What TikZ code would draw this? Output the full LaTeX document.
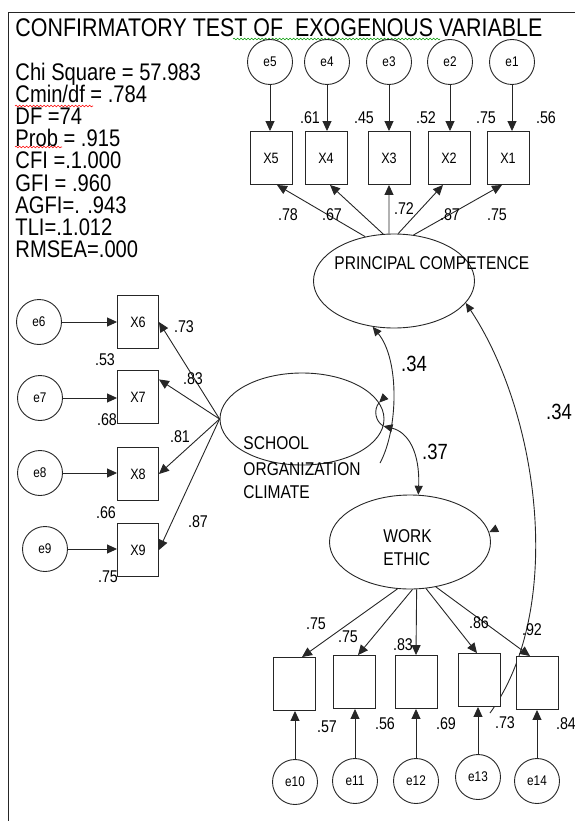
\documentclass[tikz,border=0pt]{standalone}
\usepackage{fontspec}
\setmainfont{Liberation Sans}[FakeStretch=0.84]
\usetikzlibrary{shapes.geometric, arrows.meta, decorations.pathmorphing, backgrounds}

\tikzset{
  err/.style={draw, fill=white, circle, minimum size=45pt, inner sep=0pt, font=\fontsize{14}{14}\selectfont},
  obs/.style={draw, fill=white, rectangle, minimum width=42pt, minimum height=53pt, inner sep=0pt, font=\fontsize{15}{15}\selectfont},
  lat/.style={draw, ellipse, minimum width=161pt, minimum height=94pt, inner sep=0pt},
  lbl/.style={font=\fontsize{18.5}{18.5}\selectfont, inner sep=0pt, anchor=base west},
  val/.style={font=\fontsize{17}{17}\selectfont, inner sep=0pt},
  big/.style={font=\fontsize{22}{22}\selectfont, inner sep=0pt},
  fit/.style={anchor=base west, inner sep=0pt, font=\fontsize{24}{22}\selectfont},
  arr/.style={-{Triangle[length=10pt,width=9pt]}},
  cov/.style={-{Triangle[length=9pt,width=8pt]}, line width=0.9pt, draw=black!85},
  squig/.style={decorate, decoration={snake, amplitude=0.8pt, segment length=3.5pt}, line width=0.6pt}
}

\begin{document}
\begin{tikzpicture}[x=1pt, y=-1pt, line width=0.9pt, draw=black!85]

    \useasboundingbox (0,0) rectangle (574,821);

    % frame
    \draw (8,821) -- (8,12) -- (580,12);

    % title and fit values
    \node[anchor=base west, inner sep=0pt, font=\fontsize{25.5}{26}\selectfont] (title) at (15,37)
        {CONFIRMATORY TEST OF~ EXOGENOUS VARIABLE};
    \foreach \s [count=\i] in {Chi Square = 57.983, Cmin/df = .784, DF =74, Prob = .915,
        CFI =.1.000, GFI = .960, AGFI=. .943, TLI=.1.012, RMSEA=.000}
        \node[fit] (fit\i) at (15,59+22*\i) {\s};

    % spelling marks
    \draw[squig, green!60!black] (233,39) -- (440,39);
    \draw[squig, red] (15,106) -- (93,106);
    \draw[squig, red] (15,147) -- (62,147);

    % latent variables
    \node[lat] (PC) at (394,281) {};
    \node[lat, minimum width=164pt, minimum height=92pt] (SOC) at (302,419) {};
    \node[lat] (WE) at (410,542) {};
    \node[lbl] (PCtext) at (334,269) {PRINCIPAL COMPETENCE};
    \node[lbl] (SOCa) at (243,449) {SCHOOL};
    \node[lbl] (SOCb) at (243,475) {ORGANIZATION};
    \node[lbl] (SOCc) at (243,498) {CLIMATE};
    \node[lbl] (WEa) at (383,542) {WORK};
    \node[lbl] (WEb) at (383,565) {ETHIC};

    % principal competence indicators
    \foreach \i/\ex/\bx in {1/512/508, 2/450/449, 3/389/389, 4/327/326, 5/270/271} {
        \node[err] (e\i) at (\ex,62) {e\i};
        \node[obs] (X\i) at (\bx,158) {X\i};
        \draw[arr] (e\i) -- (e\i |- X\i.north);
    }
    \draw[arr] (PC.123) -- ([xshift=6pt]X5.south);
    \draw[arr] (PC.103) -- ([xshift=4pt]X4.south);
    \draw[arr] (PC.96) -- (X3.south);
    \draw[arr] (PC.85) -- ([xshift=-6pt]X2.south);
    \draw[arr] (PC.67) -- ([xshift=-6pt]X1.south);

    % school organization climate indicators
    \foreach \i/\ex/\ey/\by in {6/39/322/322, 7/40/398/397, 8/40/473/474, 9/45/549/550} {
        \node[err] (e\i) at (\ex,\ey) {e\i};
        \node[obs, minimum width=41pt] (X\i) at (138,\by) {X\i};
        \draw[arr] (e\i) -- (e\i -| X\i.west);
    }
    \draw[arr] (SOC.west) -- (X6.east);
    \draw[arr] (SOC.west) -- (X7.40);
    \draw[arr] (SOC.west) -- (X8.east);
    \draw[arr] (SOC.west) -- (X9.east);

    % work ethic indicators
    \foreach \i/\ex/\ey/\bx/\by in {10/295/782/294/684, 11/355/781/354/682, 12/416/781/416/682,
        13/478/777/479/680, 14/537/781/537/683} {
        \node[err] (e\i) at (\ex,\ey) {e\i};
        \node[obs] (X\i) at (\bx,\by) {};
        \draw[arr] (e\i) -- (e\i |- X\i.south);
    }
    \draw[arr] (WE.255) -- ([xshift=8pt]X10.north);
    \draw[arr] (WE.273) -- ([xshift=4pt]X11.north);
    \draw[arr] (WE.278) -- (X12.north);
    \draw[arr] (WE.289) -- ([xshift=-2pt]X13.north);
    \draw[arr] (WE.300) -- ([xshift=-7pt]X14.north);

    % covariances
    \coordinate (pcwe) at (490,713);
    \coordinate (pcsoc) at (380,463);
    \begin{scope}[on background layer]
        \draw[cov] (pcwe) .. controls (565,610) and (540,415) .. (PC.-17);
        \draw[cov] (pcsoc) .. controls (398,430) and (400,360) .. (PC.245);
    \end{scope}
    \draw[{Triangle[length=9pt,width=8pt]}-{Triangle[length=9pt,width=8pt]}]
        (SOC.-5) .. controls (408,432) and (420,452) .. (WE.80);
    \draw (SOC.-5) to[bend left=50] (SOC.12);
    \draw[cov] ([shift={(6pt,6pt)}]SOC.12) -- (SOC.12);
    \draw[cov] ([shift={(8pt,4pt)}]WE.7) -- (WE.7);

    % estimates
    \foreach \v/\x/\y [count=\k] in {.61/310/118, .45/364/118, .52/426/118, .75/486/118, .56/546/118,
        .78/288/215, .67/332/215, .72/404/209, .87/450/215, .75/497/215,
        .73/184/327, .53/105/360, .83/193/379, .68/107/420, .81/180/437, .66/106/513, .87/198/522, .75/108/577,
        .75/316/624, .75/348/637, .83/403/645, .86/479/623, .92/532/630,
        .57/327/727, .56/385/724, .69/446/724, .73/505/723, .84/566/724}
        \node[val] (v\k) at (\x,\y) {\v};
    \node[big] (r1) at (414,364) {.34};
    \node[big] (r2) at (435,452) {.37};
    \node[big] (r3) at (559,412) {.34};

\end{tikzpicture}
\end{document}
